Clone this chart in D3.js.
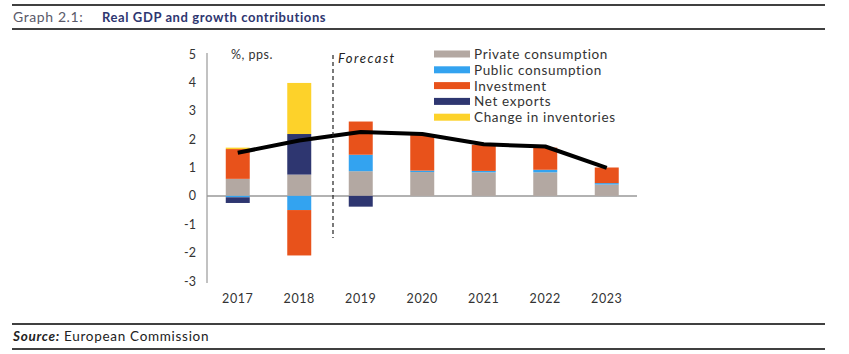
<!DOCTYPE html>
<html>
<head>
<meta charset="utf-8">
<script src="https://cdn.jsdelivr.net/npm/d3@7"></script>
<style>
  html, body { margin: 0; padding: 0; background: #fff; }
  svg { display: block; }
  text { font-family: "Lato", "Open Sans", sans-serif; }
</style>
</head>
<body>
<svg id="chart" width="849" height="354"></svg>
<script>
const years = ["2017", "2018", "2019", "2020", "2021", "2022", "2023"];
const privateConsumption = [0.6, 0.75, 0.87, 0.84, 0.83, 0.83, 0.4];
const publicConsumption  = [-0.05, -0.5, 0.58, 0.05, 0.05, 0.09, 0.05];
const investment         = [1.05, -1.6, 1.17, 1.27, 0.92, 0.78, 0.55];
const netExports         = [-0.2, 1.43, -0.38, 0, 0, 0, 0];
const inventories        = [0.05, 1.8, 0, 0, 0, 0, 0];
const realGDP            = [1.52, 1.95, 2.25, 2.18, 1.82, 1.74, 0.99];
const yTicks = [-3, -2, -1, 0, 1, 2, 3, 4, 5];

const seriesNames = ["Private consumption", "Public consumption", "Investment", "Net exports", "Change in inventories"];
const seriesValues = [privateConsumption, publicConsumption, investment, netExports, inventories];
const colors = ["#b3a8a2", "#33a3f0", "#e8521b", "#2e3670", "#fdd22a"];

const svg = d3.select("#chart");

// header / footer rules
const rule = (y) => svg.append("line").attr("x1", 12).attr("x2", 825).attr("y1", y).attr("y2", y)
  .attr("stroke", "#000").attr("stroke-width", 1.3);
rule(5); rule(29); rule(324); rule(349);

svg.append("text").attr("x", 13).attr("y", 22).attr("font-size", 14).attr("fill", "#5a5a6a")
  .attr("letter-spacing", 0.6).text("Graph 2.1:");
svg.append("text").attr("x", 102).attr("y", 22).attr("font-size", 13).attr("font-weight", "bold")
  .attr("letter-spacing", 0.6).attr("fill", "#2e3670").text("Real GDP and growth contributions");

const src = svg.append("text").attr("x", 13).attr("y", 341).attr("font-size", 13.5).attr("fill", "#222")
  .attr("letter-spacing", 0.7);
src.append("tspan").attr("font-weight", "bold").attr("font-style", "italic").text("Source:");
src.append("tspan").text(" European Commission");

// scales
const x = d3.scaleBand().domain(years).range([207, 637.5]).paddingInner(0.61).paddingOuter(0.305);
const y = d3.scaleLinear().domain([-3, 5]).range([281, 54]);

// stack with positive/negative separation
const rows = years.map((yr, i) => {
  const o = { year: yr };
  seriesNames.forEach((s, k) => o[s] = seriesValues[k][i]);
  return o;
});
const stack = d3.stack().keys(seriesNames).offset(d3.stackOffsetDiverging);
const stacked = stack(rows);

// y axis labels
svg.append("g").selectAll("text").data(yTicks).join("text")
  .attr("x", 196).attr("y", d => y(d) + 4.5).attr("text-anchor", "end")
  .attr("font-size", 12.5).attr("fill", "#333").text(d => d);

// zero line and y axis
svg.append("line").attr("x1", 207).attr("x2", 637).attr("y1", y(0)).attr("y2", y(0))
  .attr("stroke", "#999").attr("stroke-width", 1.5);
svg.append("line").attr("x1", 207).attr("x2", 207).attr("y1", y(5) - 1).attr("y2", y(-3) + 2)
  .attr("stroke", "#999").attr("stroke-width", 1.2);

// bars
svg.append("g").selectAll("g").data(stacked).join("g")
  .attr("fill", (d, i) => colors[i])
  .selectAll("rect").data(d => d).join("rect")
  .attr("x", d => x(d.data.year))
  .attr("width", x.bandwidth())
  .attr("y", d => y(Math.max(d[0], d[1])))
  .attr("height", d => Math.abs(y(d[0]) - y(d[1])));

// x labels
svg.append("g").selectAll("text").data(years).join("text")
  .attr("x", d => x(d) + x.bandwidth() / 2).attr("y", 303).attr("text-anchor", "middle")
  .attr("font-size", 12.5).attr("fill", "#333").attr("letter-spacing", 0.6).text(d => d);

// GDP line
const line = d3.line().x((d, i) => x(years[i]) + x.bandwidth() / 2).y(d => y(d));
svg.append("path").datum(realGDP).attr("d", line).attr("fill", "none")
  .attr("stroke", "#000").attr("stroke-width", 4).attr("stroke-linejoin", "round");

// forecast divider
const fx = (x("2018") + x("2019") + x.bandwidth()) / 2 + 3;
svg.append("line").attr("x1", fx).attr("x2", fx).attr("y1", 55).attr("y2", 238)
  .attr("stroke", "#222").attr("stroke-width", 1.2).attr("stroke-dasharray", "4,3");
svg.append("text").attr("x", fx + 5).attr("y", 63).attr("font-size", 13).attr("font-style", "italic")
  .attr("fill", "#222").attr("letter-spacing", 1.5).text("Forecast");

svg.append("text").attr("x", 231).attr("y", 59).attr("font-size", 12.5).attr("fill", "#333")
  .attr("letter-spacing", 0.5).text("%, pps.");

// legend
const lg = svg.append("g").selectAll("g").data(seriesNames).join("g")
  .attr("transform", (d, i) => `translate(434, ${54 + i * 15.8})`);
lg.append("rect").attr("x", 0).attr("y", -3.5).attr("width", 36).attr("height", 7)
  .attr("fill", (d, i) => colors[i]);
lg.append("text").attr("x", 40).attr("y", 5).attr("font-size", 13.5).attr("fill", "#333")
  .attr("letter-spacing", 0.65).text(d => d);
</script>
</body>
</html>
